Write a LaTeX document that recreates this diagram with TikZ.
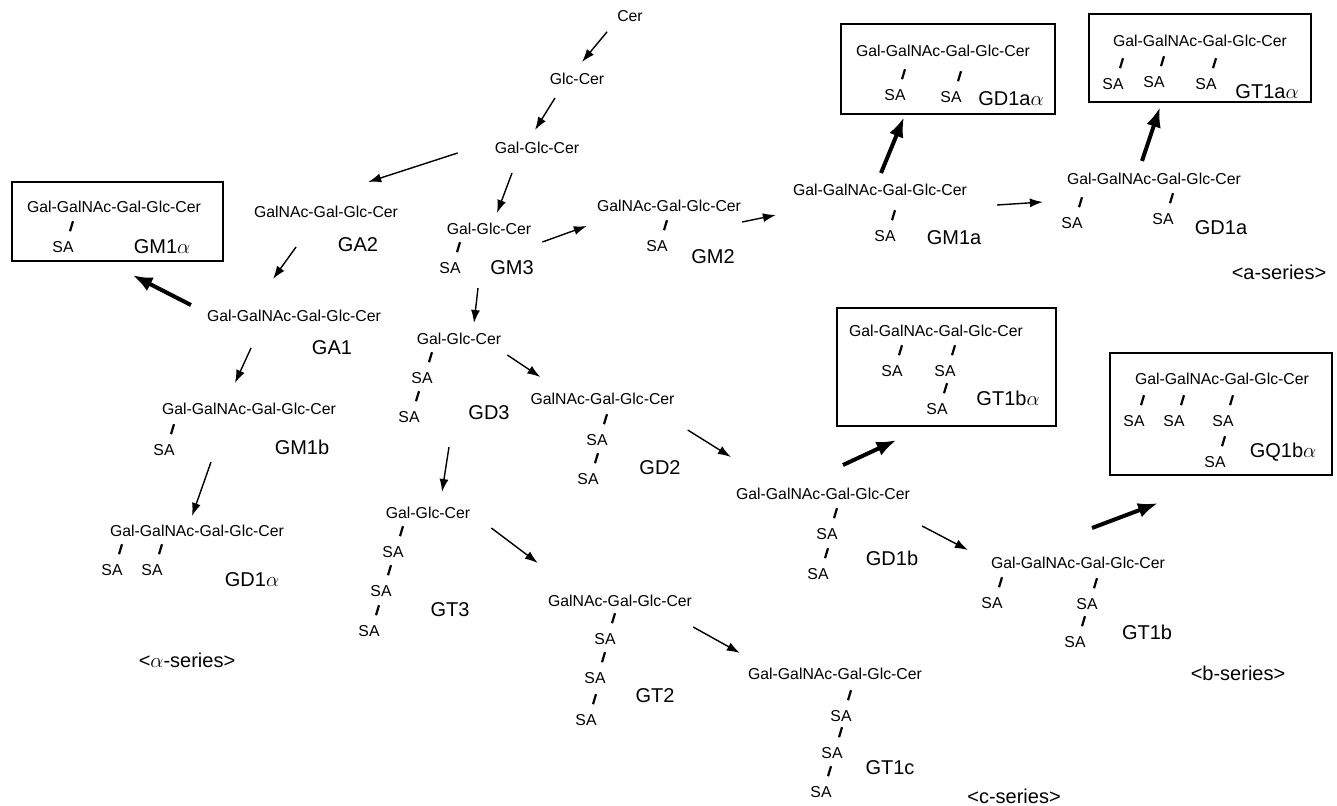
\documentclass[tikz,border=0pt]{standalone}
\usepackage{fontspec}
\setmainfont{Liberation Sans}
\usetikzlibrary{arrows.meta}
\tikzset{
  glyco/.style={inner sep=0pt,font=\fontsize{15.8}{18}\selectfont},
  gname/.style={inner sep=0pt,font=\fontsize{20}{24}\selectfont},
  molbox/.style={draw,line width=2.2pt,inner sep=0pt},
  bond/.style={line width=2.2pt},
  arr/.style={line width=1.4pt,-{Latex[length=13pt,width=9pt]}},
  bigarr/.style={line width=4pt,-{Latex[length=20pt,width=15pt]}}
}
\newcommand{\sialic}[2]{\node[glyco] (#1) at (#2) {SA};
  \draw[bond] ([shift={(7,-10)}]#1.north) -- ++(3,-10);}
\begin{document}
\begin{tikzpicture}[x=1pt,y=-1pt]
  \useasboundingbox (0,0) rectangle (1337,805);
  \node[glyco] (cer) at (630,16) {Cer};
  \node[glyco] (glc) at (577,79) {Glc-Cer};
  \node[glyco] (lac) at (537,148) {Gal-Glc-Cer};
  \node[glyco] (ga2) at (326,212) {GalNAc-Gal-Glc-Cer};
  \node[gname] (lga2) at (358,245) {GA2};
  \node[glyco] (ga1) at (294,316) {Gal-GalNAc-Gal-Glc-Cer};
  \node[gname] (lga1) at (332,348) {GA1};
  \node[molbox,minimum width=211pt,minimum height=79pt] (bgm1al) at (117.5,221.5) {};
  \node[glyco] (gm1al) at (114,207) {Gal-GalNAc-Gal-Glc-Cer};
  \sialic{gm1als1}{63,247}
  \node[gname] (lgm1al) at (162,247) {GM1$\alpha$};
  \node[glyco] (gm1b) at (249,409) {Gal-GalNAc-Gal-Glc-Cer};
  \sialic{gm1bs1}{164,450}
  \node[gname] (lgm1b) at (302,447) {GM1b};
  \node[glyco] (gd1al) at (197,531) {Gal-GalNAc-Gal-Glc-Cer};
  \sialic{gd1als1}{112,570}
  \sialic{gd1als2}{152,570}
  \node[gname] (lgd1al) at (252,580) {GD1$\alpha$};
  \node[gname] (alser) at (187,660) {<$\alpha$-series>};
  \node[glyco] (gm3) at (489,229) {Gal-Glc-Cer};
  \sialic{gm3s1}{450,268}
  \node[gname] (lgm3) at (512,268) {GM3};
  \node[glyco] (gm2) at (669,206) {GalNAc-Gal-Glc-Cer};
  \sialic{gm2s1}{657,246}
  \node[gname] (lgm2) at (713,257) {GM2};
  \node[glyco] (gm1a) at (880,190) {Gal-GalNAc-Gal-Glc-Cer};
  \sialic{gm1as1}{885,236}
  \node[gname] (lgm1a) at (954,238) {GM1a};
  \node[glyco] (gd1a) at (1154,179) {Gal-GalNAc-Gal-Glc-Cer};
  \sialic{gd1as1}{1072,223}
  \sialic{gd1as2}{1163,219}
  \node[gname] (lgd1a) at (1221,228) {GD1a};
  \node[gname] (aser) at (1279,272) {<a-series>};
  \node[molbox,minimum width=214pt,minimum height=90pt] (bgd1aal) at (948,69) {};
  \node[glyco] (gd1aal) at (943,51) {Gal-GalNAc-Gal-Glc-Cer};
  \sialic{gd1aals1}{895,95}
  \sialic{gd1aals2}{951,97}
  \node[gname] (lgd1aal) at (1011,99) {GD1a$\alpha$};
  \node[molbox,minimum width=222pt,minimum height=88pt] (bgt1aal) at (1200,58) {};
  \node[glyco] (gt1aal) at (1200,41) {Gal-GalNAc-Gal-Glc-Cer};
  \sialic{gt1aals1}{1113,84}
  \sialic{gt1aals2}{1154,82}
  \sialic{gt1aals3}{1206,84}
  \node[gname] (lgt1aal) at (1267,92) {GT1a$\alpha$};
  \node[glyco] (gd3) at (459,339) {Gal-Glc-Cer};
  \sialic{gd3s1}{422,378}
  \sialic{gd3s2}{409,417}
  \node[gname] (lgd3) at (489,413) {GD3};
  \node[glyco] (gd2) at (602.5,399) {GalNAc-Gal-Glc-Cer};
  \sialic{gd2s1}{597,440}
  \sialic{gd2s2}{588,479}
  \node[gname] (lgd2) at (660,468) {GD2};
  \node[glyco] (gd1b) at (823,494) {Gal-GalNAc-Gal-Glc-Cer};
  \sialic{gd1bs1}{827,534}
  \sialic{gd1bs2}{818,574}
  \node[gname] (lgd1b) at (892,558) {GD1b};
  \node[molbox,minimum width=219pt,minimum height=118pt] (bgt1bal) at (946.5,367) {};
  \node[glyco] (gt1bal) at (936,331) {Gal-GalNAc-Gal-Glc-Cer};
  \sialic{gt1bals1}{892,371}
  \sialic{gt1bals2}{945,371}
  \sialic{gt1bals3}{937,409}
  \node[gname] (lgt1bal) at (1008,398) {GT1b$\alpha$};
  \node[glyco] (gt1b) at (1078,563) {Gal-GalNAc-Gal-Glc-Cer};
  \sialic{gt1bs1}{992,603}
  \sialic{gt1bs2}{1087,604}
  \sialic{gt1bs3}{1075,642}
  \node[gname] (lgt1b) at (1147,632) {GT1b};
  \node[gname] (bser) at (1238,673) {<b-series>};
  \node[molbox,minimum width=222pt,minimum height=122pt] (bgq1bal) at (1221,414) {};
  \node[glyco] (gq1bal) at (1222,379) {Gal-GalNAc-Gal-Glc-Cer};
  \sialic{gq1bals1}{1134,421}
  \sialic{gq1bals2}{1174,421}
  \sialic{gq1bals3}{1223,421}
  \sialic{gq1bals4}{1215,462}
  \node[gname] (lgq1bal) at (1283,452) {GQ1b$\alpha$};
  \node[glyco] (gt3) at (428,513) {Gal-Glc-Cer};
  \sialic{gt3s1}{393,552}
  \sialic{gt3s2}{381,591}
  \sialic{gt3s3}{369,631}
  \node[gname] (lgt3) at (450,610) {GT3};
  \node[glyco] (gt2) at (620,601) {GalNAc-Gal-Glc-Cer};
  \sialic{gt2s1}{605,639}
  \sialic{gt2s2}{595,678}
  \sialic{gt2s3}{586,720}
  \node[gname] (lgt2) at (655,696) {GT2};
  \node[glyco] (gt1c) at (835,674) {Gal-GalNAc-Gal-Glc-Cer};
  \sialic{gt1cs1}{841,716}
  \sialic{gt1cs2}{832,753}
  \sialic{gt1cs3}{821,792}
  \node[gname] (lgt1c) at (890,768) {GT1c};
  \node[gname] (cser) at (1014,796) {<c-series>};
  \draw[arr] ([shift={(-10,10)}]cer.south west) -- ([shift={(5,-11)}]glc.north);
  \draw[arr] ([shift={(-22,13)}]glc.south) -- ([shift={(-2,-12)}]lac.north);
  \draw[arr] ([shift={(-37,5)}]lac.west) -- ([shift={(-30,-24)}]ga2.north east);
  \draw[arr] ([shift={(-25,19)}]lac.south) -- ([shift={(8,-10)}]gm3.north);
  \draw[arr] ([shift={(-30,29)}]ga2.south) -- ([shift={(-21,-31)}]ga1.north);
  \draw[bigarr] ([shift={(-16,-11)}]ga1.west) -- ([shift={(15,13)}]bgm1al.south);
  \draw[arr] ([shift={(-43,26)}]ga1.south) -- ([shift={(-14,-20)}]gm1b.north);
  \draw[arr] ([shift={(-38,47)}]gm1b.south) -- ([shift={(-5,-9)}]gd1al.north);
  \draw[arr] ([shift={(11,7)}]gm3.south east) -- ([shift={(-10,14)}]gm2.south west);
  \draw[arr] ([shift={(-11,53)}]gm3.south) -- ([shift={(15,-10)}]gd3.north);
  \draw[arr] ([shift={(1,16)}]gm2.east) -- ([shift={(-17,25)}]gm1a.west);
  \draw[bigarr] ([shift={(1,-11)}]gm1a.north) -- ([shift={(-44,2)}]bgd1aal.south);
  \draw[arr] ([shift={(30,15)}]gm1a.east) -- ([shift={(-24,23)}]gd1a.west);
  \draw[bigarr] ([shift={(-12,-12)}]gd1a.north) -- ([shift={(-40,4)}]bgt1aal.south);
  \draw[arr] ([shift={(6,16)}]gd3.east) -- ([shift={(10,-22)}]gd2.west);
  \draw[arr] ([shift={(-10,102)}]gd3.south) -- ([shift={(14,-15)}]gt3.north);
  \draw[arr] ([shift={(13,31)}]gd2.east) -- ([shift={(-5,-31)}]gd1b.north west);
  \draw[bigarr] ([shift={(20,-23)}]gd1b.north) -- ([shift={(-50,13)}]bgt1bal.south);
  \draw[arr] ([shift={(12,32)}]gd1b.east) -- ([shift={(-23,-7)}]gt1b.north west);
  \draw[bigarr] ([shift={(14,-29)}]gt1b.north) -- ([shift={(-63,27)}]bgq1bal.south);
  \draw[arr] ([shift={(21,15)}]gt3.east) -- ([shift={(-10,-38)}]gt2.west);
  \draw[arr] ([shift={(1,26)}]gt2.east) -- ([shift={(-8,-21)}]gt1c.west);
\end{tikzpicture}
\end{document}
